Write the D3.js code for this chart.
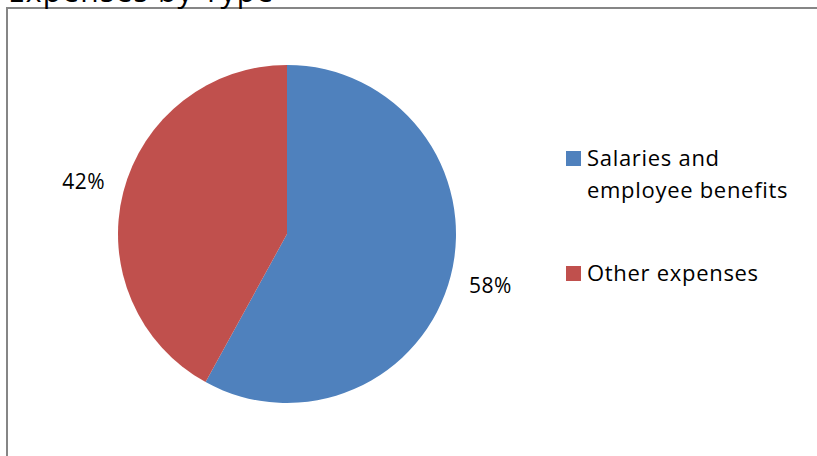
<!DOCTYPE html>
<html>
<head>
<meta charset="utf-8">
<script src="https://cdn.jsdelivr.net/npm/d3@7"></script>
<style>
  html, body { margin: 0; padding: 0; background: #fff; }
  svg { display: block; font-family: "Open Sans", sans-serif; }
</style>
</head>
<body>
<div id="chart"></div>
<script>
// Expenses by Type - pie

const categories = ["Salaries and employee benefits", "Other expenses"];
const legendLines = [["Salaries and", "employee benefits"], ["Other expenses"]];
const shares = [58, 42];
const colors = ["#4F81BD", "#C0504D"];

const W = 817, H = 456;
const cx = 287, cy = 234, radius = 169, labelRadius = 210;

const svg = d3.select("#chart")
  .append("svg")
  .attr("width", W)
  .attr("height", H);

// chart frame (runs off the right and bottom edges)
svg.append("rect")
  .attr("x", 7)
  .attr("y", 8)
  .attr("width", W + 20)
  .attr("height", H + 20)
  .attr("fill", "none")
  .attr("stroke", "#868686")
  .attr("stroke-width", 2);

// title, mostly cut off at the top like in the source
svg.append("text")
  .attr("x", 8)
  .attr("y", 2)
  .style("font-size", "30px")
  .style("letter-spacing", "1.2px")
  .style("fill", "#000")
  .text("Expenses by Type");

const data = categories.map((c, i) => ({ name: c, value: shares[i], color: colors[i] }));

const pie = d3.pie()
  .sort(null)
  .value(d => d.value);

const arc = d3.arc().innerRadius(0).outerRadius(radius);
const labelArc = d3.arc().innerRadius(labelRadius).outerRadius(labelRadius);

const g = svg.append("g")
  .attr("transform", `translate(${cx},${cy})`);

const arcs = pie(data);

g.selectAll("path")
  .data(arcs)
  .join("path")
  .attr("d", arc)
  .attr("fill", d => d.data.color);

g.selectAll("text.pct")
  .data(arcs)
  .join("text")
  .attr("class", "pct")
  .attr("x", d => labelArc.centroid(d)[0])
  .attr("y", d => labelArc.centroid(d)[1] + 7)
  .attr("text-anchor", "middle")
  .style("font-size", "21px")
  .style("letter-spacing", "0.4px")
  .style("fill", "#000")
  .text(d => d.data.value + "%");

// legend
const legendTop = [151, 266];
const legend = svg.append("g");

legendLines.forEach((lines, i) => {
  legend.append("rect")
    .attr("x", 566)
    .attr("y", legendTop[i])
    .attr("width", 15)
    .attr("height", 15)
    .attr("fill", colors[i]);

  lines.forEach((line, j) => {
    legend.append("text")
      .attr("x", 587)
      .attr("y", legendTop[i] + 15 + j * 32)
      .style("font-size", "22px")
      .style("letter-spacing", "0.7px")
      .style("fill", "#000")
      .text(line);
  });
});
</script>
</body>
</html>
